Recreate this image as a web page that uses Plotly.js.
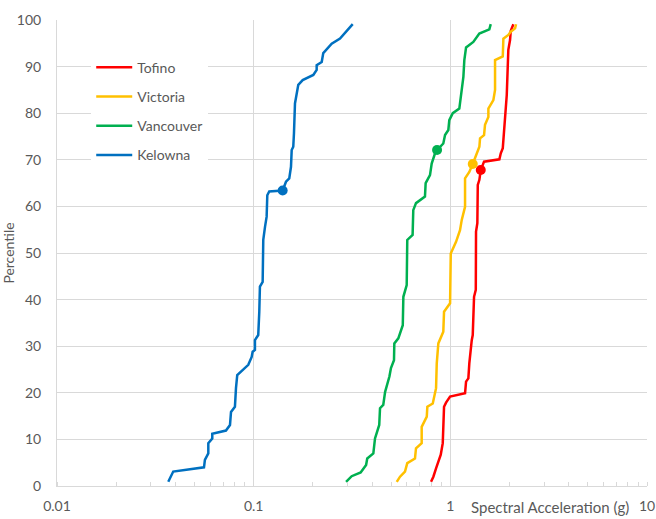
<!DOCTYPE html>
<html>
<head>
<meta charset="utf-8">
<script src="https://cdn.plot.ly/plotly-3.0.1.min.js"></script>
<style>html,body{margin:0;padding:0;background:#fff;}#chart{width:656px;height:519px;}</style>
</head>
<body>
<div id="chart"></div>
<script>
// Spectral acceleration (g) vs percentile, per city
const tofinoX = [0.798,0.820,0.846,0.869,0.894,0.915,0.929,0.951,0.997,1.188,1.202,1.235,1.249,1.285,1.300,1.320,1.347,1.351,1.372,1.379,1.405,1.428,1.484,1.776,1.805,1.848,1.861,1.898,1.914,1.936,1.972,2.012,2.029,2.092];
const tofinoY = [0.9,2.0,3.8,5.2,6.7,9.2,17.0,17.9,19.2,19.9,22.4,23.1,26.3,31.3,32.4,40.6,42.1,54.6,56.4,64.6,65.7,67.8,69.6,70.1,71.4,72.5,74.2,77.1,80.7,83.9,93.6,95.7,97.7,99.1];

const victoriaX = [0.534,0.555,0.588,0.604,0.661,0.669,0.715,0.715,0.759,0.764,0.814,0.846,0.853,0.869,0.921,0.929,0.997,1.005,1.069,1.120,1.143,1.188,1.188,1.249,1.300,1.347,1.405,1.416,1.484,1.501,1.561,1.561,1.655,1.688,1.688,1.848,1.861,1.972,2.029,2.134,2.159];
const victoriaY = [0.9,2.0,3.1,4.9,5.9,8.1,9.2,12.7,14.9,17.0,17.7,21.0,26.3,30.6,33.1,37.4,39.2,49.9,52.4,54.9,57.1,59.9,66.0,67.4,69.1,71.0,72.8,74.6,75.3,77.5,79.2,81.0,82.8,85.0,91.4,92.2,96.0,96.8,97.5,98.2,99.1];

const vancouverX = [0.295,0.315,0.350,0.373,0.378,0.406,0.414,0.422,0.435,0.439,0.456,0.466,0.478,0.490,0.499,0.517,0.519,0.544,0.573,0.577,0.600,0.604,0.643,0.648,0.669,0.743,0.749,0.788,0.804,0.836,0.856,0.886,0.921,0.940,0.977,0.988,1.029,1.111,1.143,1.165,1.178,1.202,1.309,1.404,1.579,1.605];
const vancouverY = [0.9,2.1,2.9,4.5,5.9,7.0,10.2,11.3,13.1,16.7,17.4,20.2,21.7,23.5,25.3,27.0,30.6,31.7,34.5,40.6,43.1,52.8,53.9,59.2,60.7,62.1,65.0,66.7,69.2,71.4,72.1,72.8,73.5,75.3,76.4,78.5,80.0,81.0,85.0,87.8,91.4,94.1,95.3,97.1,98.0,99.1];

const kelownaX = [0.0368,0.0390,0.0559,0.0565,0.0588,0.0588,0.0616,0.0616,0.0723,0.0758,0.0767,0.0803,0.0813,0.0825,0.0939,0.0977,0.0988,0.1015,0.1015,0.1055,0.1068,0.1076,0.1111,0.1119,0.1142,0.1164,0.1173,0.1200,0.1404,0.1460,0.1517,0.1548,0.1561,0.1590,0.1603,0.1622,0.1622,0.1686,0.1775,0.2010,0.2091,0.2091,0.2218,0.2259,0.2493,0.2748,0.3189];
const kelownaY = [0.9,3.1,4.0,5.6,7.0,9.2,10.2,11.2,11.9,13.1,15.9,17.0,21.0,23.8,26.0,27.7,28.8,29.2,31.3,32.4,37.4,42.8,43.8,52.8,55.6,57.8,62.4,63.2,63.4,65.3,66.0,68.5,72.1,72.8,75.7,80.0,82.1,86.1,87.1,88.2,89.3,90.3,91.0,92.9,94.9,96.0,99.1];

const seriesNames = ["Tofino","Victoria","Vancouver","Kelowna"];
const seriesColors = ["#FF0000","#FFC000","#00B050","#0070C0"];
// highlighted points
const markX = [1.428,1.300,0.856,0.1404];
const markY = [67.8,69.1,72.1,63.4];

const xTickVals = [0.01,0.1,1,10];
const xTickText = ["0.01","0.1","1","10"];

const xs = [tofinoX,victoriaX,vancouverX,kelownaX];
const ys = [tofinoY,victoriaY,vancouverY,kelownaY];

const traces = [];
for (let i=0;i<4;i++){
  traces.push({x:xs[i],y:ys[i],type:'scatter',mode:'lines',name:seriesNames[i],
    legendgroup:'g'+i,line:{color:seriesColors[i],width:2.5}});
}
for (let i=0;i<4;i++){
  traces.push({x:[markX[i]],y:[markY[i]],type:'scatter',mode:'markers',showlegend:false,
    marker:{color:seriesColors[i],size:10}});
}

const fontFam = 'Lato, "Open Sans", sans-serif';
const layout = {
  width:656,height:519,
  margin:{l:57,r:9,t:20,b:33},
  paper_bgcolor:'#fff',plot_bgcolor:'#fff',
  font:{family:fontFam,size:14,color:'#595959'},
  showlegend:true,
  legend:{x:0.058,y:0.932,xanchor:'left',yanchor:'top',bgcolor:'#fff',borderwidth:0,
    font:{size:14,color:'#595959'},traceorder:'grouped',tracegroupgap:8,itemwidth:36},
  xaxis:{type:'log',range:[-2,1],tickvals:xTickVals,ticktext:xTickText,
    showgrid:true,gridcolor:'#D9D9D9',gridwidth:1,showline:true,linecolor:'#D9D9D9',linewidth:1,
    ticks:'',ticklabelstandoff:7,zeroline:false,
    minor:{ticks:'inside',ticklen:4,tickcolor:'#D9D9D9',dtick:'D1',showgrid:false},
    tickfont:{size:14,color:'#595959'}},
  yaxis:{range:[0,100],dtick:10,showgrid:true,gridcolor:'#D9D9D9',gridwidth:1,
    showline:true,linecolor:'#D9D9D9',linewidth:1,ticks:'',ticklabelstandoff:12,zeroline:false,
    tickfont:{size:14,color:'#595959'},
    title:{text:'Percentile',font:{size:14,color:'#595959'},standoff:0}},
  annotations:[{text:'Spectral Acceleration (g)',xref:'paper',yref:'paper',x:0.835,y:-0.045,
    xanchor:'center',yanchor:'middle',showarrow:false,font:{size:15,color:'#595959'}}]
};
Plotly.newPlot('chart',traces,layout,{displayModeBar:false,staticPlot:true});
</script>
</body>
</html>
